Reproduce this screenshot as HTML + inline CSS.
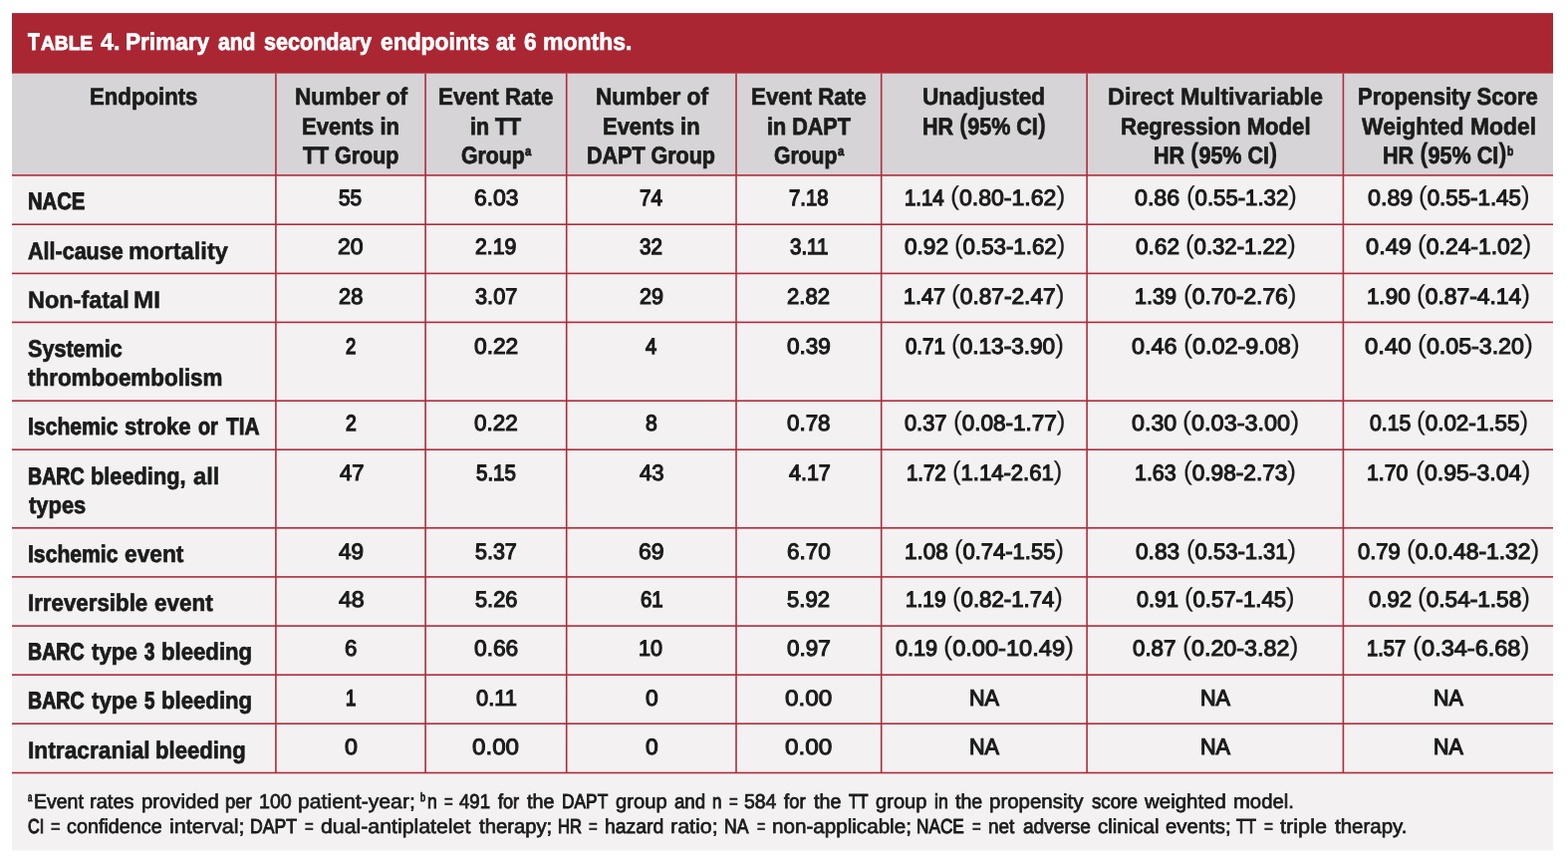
<!DOCTYPE html>
<html lang="en"><head><meta charset="utf-8"><title>Table 4. Primary and secondary endpoints at 6 months</title>
<style>
html,body{margin:0;padding:0;background:#fff;}
body{width:1574px;height:868px;position:relative;overflow:hidden;font-family:"Liberation Sans",sans-serif;color:#1b1b1b;}
svg{position:absolute;left:0;top:0;}
span{position:absolute;white-space:pre;line-height:normal;transform-origin:0 0;text-rendering:geometricPrecision;}
i{font-style:normal;font-size:1.16em;line-height:0;position:relative;top:-1px;-webkit-text-stroke-width:0.15px;}
.b{font-size:24.0px;font-weight:700;color:#1b1b1b;-webkit-text-stroke:0.5px #1b1b1b;}
.n{font-size:22.4px;font-weight:400;color:#1b1b1b;-webkit-text-stroke:1.1px #1b1b1b;}
.f{font-size:20.3px;font-weight:400;color:#1b1b1b;-webkit-text-stroke:0.7px #1b1b1b;}
.t{font-size:24.0px;font-weight:700;color:#ffffff;-webkit-text-stroke:0.5px #ffffff;}
</style></head>
<body>
<svg width="1574" height="868" viewBox="0 0 1574 868">
<rect x="12.0" y="13.1" width="1547.00" height="840.30" fill="#f3f1f2"/>
<rect x="12.0" y="73.7" width="1547.00" height="102.20" fill="#d6d4d7"/>
<rect x="12.0" y="13.1" width="1547.00" height="60.60" fill="#aa2633"/>
<rect x="12.0" y="175.10" width="1547.00" height="1.6" fill="#b02c3a"/>
<rect x="12.0" y="224.40" width="1547.00" height="1.6" fill="#b02c3a"/>
<rect x="12.0" y="273.60" width="1547.00" height="1.6" fill="#b02c3a"/>
<rect x="12.0" y="322.60" width="1547.00" height="1.6" fill="#b02c3a"/>
<rect x="12.0" y="401.40" width="1547.00" height="1.6" fill="#b02c3a"/>
<rect x="12.0" y="450.40" width="1547.00" height="1.6" fill="#b02c3a"/>
<rect x="12.0" y="529.00" width="1547.00" height="1.6" fill="#b02c3a"/>
<rect x="12.0" y="578.10" width="1547.00" height="1.6" fill="#b02c3a"/>
<rect x="12.0" y="627.30" width="1547.00" height="1.6" fill="#b02c3a"/>
<rect x="12.0" y="676.40" width="1547.00" height="1.6" fill="#b02c3a"/>
<rect x="12.0" y="725.40" width="1547.00" height="1.6" fill="#b02c3a"/>
<rect x="12.0" y="774.70" width="1547.00" height="1.6" fill="#b02c3a"/>
<rect x="276.10" y="73.7" width="1.6" height="701.80" fill="#b02c3a"/>
<rect x="426.30" y="73.7" width="1.6" height="701.80" fill="#b02c3a"/>
<rect x="567.90" y="73.7" width="1.6" height="701.80" fill="#b02c3a"/>
<rect x="738.20" y="73.7" width="1.6" height="701.80" fill="#b02c3a"/>
<rect x="883.90" y="73.7" width="1.6" height="701.80" fill="#b02c3a"/>
<rect x="1090.30" y="73.7" width="1.6" height="701.80" fill="#b02c3a"/>
<rect x="1347.60" y="73.7" width="1.6" height="701.80" fill="#b02c3a"/>
</svg>
<span class="t" style="left:28.39px;top:29.00px;transform:scaleX(0.7944);-webkit-text-stroke-width:1.0px;">T</span><span class="t" style="left:40.56px;top:33.00px;transform:scaleX(0.9550);font-size:20.04px;-webkit-text-stroke-width:0.9px;">ABLE </span>
<span class="t" style="left:100.50px;top:29.00px;transform:scaleX(0.9733);-webkit-text-stroke-width:0.55px;">4. </span>
<span class="t" style="left:126.45px;top:29.00px;transform:scaleX(0.9419);-webkit-text-stroke-width:0.64px;">Primary </span>
<span class="t" style="left:219.46px;top:29.00px;transform:scaleX(0.8774);-webkit-text-stroke-width:0.82px;">and </span>
<span class="t" style="left:265.22px;top:29.00px;transform:scaleX(0.8991);-webkit-text-stroke-width:0.76px;">secondary </span>
<span class="t" style="left:381.50px;top:29.00px;transform:scaleX(0.9520);-webkit-text-stroke-width:0.62px;">endpoints </span>
<span class="t" style="left:497.72px;top:29.00px;transform:scaleX(0.9080);-webkit-text-stroke-width:0.72px;">at </span>
<span class="t" style="left:525.97px;top:29.00px;transform:scaleX(0.9455);-webkit-text-stroke-width:0.61px;">6 </span>
<span class="t" style="left:544.80px;top:29.00px;transform:scaleX(0.9583);-webkit-text-stroke-width:0.6px;">months.</span>
<span class="b" style="left:89.99px;top:84.00px;transform:scaleX(0.9240);-webkit-text-stroke-width:0.69px;">Endpoints </span>
<span class="b" style="left:295.84px;top:84.00px;transform:scaleX(0.9428);-webkit-text-stroke-width:0.64px;">Number of </span>
<span class="b" style="left:303.41px;top:114.00px;transform:scaleX(0.9189);-webkit-text-stroke-width:0.71px;">Events in </span>
<span class="b" style="left:304.05px;top:143.00px;transform:scaleX(0.8918);-webkit-text-stroke-width:0.78px;">TT Group </span>
<span class="b" style="left:440.18px;top:84.00px;transform:scaleX(0.9294);-webkit-text-stroke-width:0.68px;">Event Rate </span>
<span class="b" style="left:472.23px;top:114.00px;transform:scaleX(0.8926);-webkit-text-stroke-width:0.78px;">in TT </span>
<span class="b" style="left:462.63px;top:143.00px;transform:scaleX(0.8835);-webkit-text-stroke-width:0.81px;">Group</span><span class="b" style="left:527.28px;top:144.00px;transform:scaleX(0.8587);font-size:13.20px;-webkit-text-stroke-width:0.7px;">a </span>
<span class="b" style="left:597.55px;top:84.00px;transform:scaleX(0.9410);-webkit-text-stroke-width:0.65px;">Number of </span>
<span class="b" style="left:605.22px;top:114.00px;transform:scaleX(0.9141);-webkit-text-stroke-width:0.72px;">Events in </span>
<span class="b" style="left:589.07px;top:143.00px;transform:scaleX(0.8959);-webkit-text-stroke-width:0.78px;">DAPT Group </span>
<span class="b" style="left:753.77px;top:84.00px;transform:scaleX(0.9321);-webkit-text-stroke-width:0.67px;">Event Rate </span>
<span class="b" style="left:769.72px;top:114.00px;transform:scaleX(0.8988);-webkit-text-stroke-width:0.77px;">in DAPT </span>
<span class="b" style="left:776.63px;top:143.00px;transform:scaleX(0.8791);-webkit-text-stroke-width:0.82px;">Group</span><span class="b" style="left:841.08px;top:144.00px;transform:scaleX(0.8587);font-size:13.20px;-webkit-text-stroke-width:0.7px;">a </span>
<span class="b" style="left:926.20px;top:84.00px;transform:scaleX(0.9425);-webkit-text-stroke-width:0.64px;">Unadjusted </span>
<span class="b" style="left:926.27px;top:114.00px;transform:scaleX(0.8954);-webkit-text-stroke-width:0.78px;">HR <i>(</i>95% CI<i>)</i> </span>
<span class="b" style="left:1111.86px;top:84.00px;transform:scaleX(0.9758);-webkit-text-stroke-width:0.56px;">Direct Multivariable </span>
<span class="b" style="left:1124.90px;top:114.00px;transform:scaleX(0.9219);-webkit-text-stroke-width:0.7px;">Regression Model </span>
<span class="b" style="left:1158.07px;top:143.00px;transform:scaleX(0.8969);-webkit-text-stroke-width:0.78px;">HR <i>(</i>95% CI<i>)</i> </span>
<span class="b" style="left:1363.32px;top:84.00px;transform:scaleX(0.9152);-webkit-text-stroke-width:0.72px;">Propensity Score </span>
<span class="b" style="left:1367.27px;top:114.00px;transform:scaleX(0.9535);-webkit-text-stroke-width:0.62px;">Weighted Model </span>
<span class="b" style="left:1388.06px;top:143.00px;transform:scaleX(0.8984);-webkit-text-stroke-width:0.77px;">HR <i>(</i>95% CI<i>)</i></span><span class="b" style="left:1513.11px;top:144.00px;transform:scaleX(0.7784);font-size:13.20px;-webkit-text-stroke-width:0.7px;">b </span>
<span class="b" style="left:27.93px;top:189.00px;transform:scaleX(0.8424);-webkit-text-stroke-width:0.94px;">NACE</span>
<span class="b" style="left:28.01px;top:239.00px;transform:scaleX(0.8965);-webkit-text-stroke-width:0.77px;">All-cause </span>
<span class="b" style="left:129.31px;top:239.00px;transform:scaleX(0.9865);">mortality</span>
<span class="b" style="left:27.86px;top:288.00px;transform:scaleX(0.9776);-webkit-text-stroke-width:0.55px;">Non-fatal </span>
<span class="b" style="left:134.39px;top:288.00px;transform:scaleX(1.0120);">MI</span>
<span class="b" style="left:27.96px;top:337.00px;transform:scaleX(0.8991);-webkit-text-stroke-width:0.76px;">Systemic </span>
<span class="b" style="left:28.48px;top:366.00px;transform:scaleX(0.9339);-webkit-text-stroke-width:0.67px;">thromboembolism</span>
<span class="b" style="left:27.85px;top:415.00px;transform:scaleX(0.8807);-webkit-text-stroke-width:0.82px;">Ischemic </span>
<span class="b" style="left:125.17px;top:415.00px;transform:scaleX(0.9258);-webkit-text-stroke-width:0.69px;">stroke </span>
<span class="b" style="left:198.60px;top:415.00px;transform:scaleX(0.8210);-webkit-text-stroke-width:0.96px;">or </span>
<span class="b" style="left:226.53px;top:415.00px;transform:scaleX(0.8672);-webkit-text-stroke-width:0.83px;">TIA</span>
<span class="b" style="left:28.23px;top:465.00px;transform:scaleX(0.8152);-webkit-text-stroke-width:1.02px;">BARC </span>
<span class="b" style="left:91.44px;top:465.00px;transform:scaleX(0.9069);-webkit-text-stroke-width:0.74px;">bleeding, </span>
<span class="b" style="left:193.52px;top:465.00px;transform:scaleX(0.9896);">all </span>
<span class="b" style="left:28.52px;top:494.00px;transform:scaleX(0.9138);-webkit-text-stroke-width:0.72px;">types</span>
<span class="b" style="left:27.85px;top:543.00px;transform:scaleX(0.8807);-webkit-text-stroke-width:0.82px;">Ischemic </span>
<span class="b" style="left:125.30px;top:543.00px;transform:scaleX(0.9482);-webkit-text-stroke-width:0.63px;">event</span>
<span class="b" style="left:27.98px;top:592.00px;transform:scaleX(0.9291);-webkit-text-stroke-width:0.68px;">Irreversible </span>
<span class="b" style="left:155.23px;top:592.00px;transform:scaleX(0.9348);-webkit-text-stroke-width:0.66px;">event</span>
<span class="b" style="left:28.23px;top:641.00px;transform:scaleX(0.8152);-webkit-text-stroke-width:1.02px;">BARC </span>
<span class="b" style="left:92.09px;top:641.00px;transform:scaleX(0.9274);-webkit-text-stroke-width:0.68px;">type </span>
<span class="b" style="left:144.86px;top:641.00px;transform:scaleX(0.7703);-webkit-text-stroke-width:1.06px;">3 </span>
<span class="b" style="left:161.70px;top:641.00px;transform:scaleX(0.9235);-webkit-text-stroke-width:0.69px;">bleeding</span>
<span class="b" style="left:28.23px;top:690.00px;transform:scaleX(0.8152);-webkit-text-stroke-width:1.02px;">BARC </span>
<span class="b" style="left:92.09px;top:690.00px;transform:scaleX(0.9274);-webkit-text-stroke-width:0.68px;">type </span>
<span class="b" style="left:144.62px;top:690.00px;transform:scaleX(0.7782);-webkit-text-stroke-width:1.05px;">5 </span>
<span class="b" style="left:161.70px;top:690.00px;transform:scaleX(0.9235);-webkit-text-stroke-width:0.69px;">bleeding</span>
<span class="b" style="left:27.94px;top:740.00px;transform:scaleX(0.9482);-webkit-text-stroke-width:0.63px;">Intracranial </span>
<span class="b" style="left:156.26px;top:740.00px;transform:scaleX(0.9208);-webkit-text-stroke-width:0.7px;">bleeding</span>
<span class="n" style="left:340.25px;top:186.00px;transform:scaleX(0.9298);-webkit-text-stroke-width:1.23px;">55</span>
<span class="n" style="left:475.55px;top:186.00px;transform:scaleX(1.0213);">6.03</span>
<span class="n" style="left:641.81px;top:186.00px;transform:scaleX(0.9241);-webkit-text-stroke-width:1.25px;">74</span>
<span class="n" style="left:791.94px;top:186.00px;transform:scaleX(0.9052);-webkit-text-stroke-width:1.29px;">7.18</span>
<span class="n" style="left:907.59px;top:186.00px;transform:scaleX(0.9115);-webkit-text-stroke-width:1.28px;">1.14 </span>
<span class="n" style="left:953.96px;top:186.00px;transform:scaleX(1.0304);-webkit-text-stroke-width:1.04px;"><i>(</i>0.80-1.62<i>)</i></span>
<span class="n" style="left:1139.22px;top:186.00px;transform:scaleX(1.0370);-webkit-text-stroke-width:1.04px;">0.86 </span>
<span class="n" style="left:1190.56px;top:186.00px;transform:scaleX(0.9902);"><i>(</i>0.55-1.32<i>)</i></span>
<span class="n" style="left:1372.81px;top:186.00px;transform:scaleX(1.0401);-webkit-text-stroke-width:1.03px;">0.89 </span>
<span class="n" style="left:1424.16px;top:186.00px;transform:scaleX(0.9966);"><i>(</i>0.55-1.45<i>)</i></span>
<span class="n" style="left:338.87px;top:235.00px;transform:scaleX(1.0288);-webkit-text-stroke-width:1.05px;">20</span>
<span class="n" style="left:477.19px;top:235.00px;transform:scaleX(0.9482);-webkit-text-stroke-width:1.2px;">2.19</span>
<span class="n" style="left:642.44px;top:235.00px;transform:scaleX(0.9169);-webkit-text-stroke-width:1.26px;">32</span>
<span class="n" style="left:793.14px;top:235.00px;transform:scaleX(0.9163);-webkit-text-stroke-width:1.27px;">3.11</span>
<span class="n" style="left:907.86px;top:235.00px;transform:scaleX(1.0085);">0.92 </span>
<span class="n" style="left:957.96px;top:235.00px;transform:scaleX(0.9939);"><i>(</i>0.53-1.62<i>)</i></span>
<span class="n" style="left:1139.86px;top:235.00px;transform:scaleX(1.0085);">0.62 </span>
<span class="n" style="left:1190.17px;top:235.00px;transform:scaleX(0.9893);"><i>(</i>0.32-1.22<i>)</i></span>
<span class="n" style="left:1371.30px;top:235.00px;transform:scaleX(1.0545);-webkit-text-stroke-width:1.0px;">0.49 </span>
<span class="n" style="left:1423.22px;top:235.00px;transform:scaleX(1.0214);-webkit-text-stroke-width:1.06px;"><i>(</i>0.24-1.02<i>)</i></span>
<span class="n" style="left:339.55px;top:285.00px;transform:scaleX(0.9761);-webkit-text-stroke-width:1.14px;">28</span>
<span class="n" style="left:476.58px;top:285.00px;transform:scaleX(0.9728);-webkit-text-stroke-width:1.15px;">3.07</span>
<span class="n" style="left:641.77px;top:285.00px;transform:scaleX(0.9617);-webkit-text-stroke-width:1.17px;">29</span>
<span class="n" style="left:790.32px;top:285.00px;transform:scaleX(0.9863);">2.82</span>
<span class="n" style="left:907.49px;top:285.00px;transform:scaleX(0.9655);-webkit-text-stroke-width:1.17px;">1.47 </span>
<span class="n" style="left:955.33px;top:285.00px;transform:scaleX(1.0132);"><i>(</i>0.87-2.47<i>)</i></span>
<span class="n" style="left:1139.14px;top:285.00px;transform:scaleX(0.9638);-webkit-text-stroke-width:1.17px;">1.39 </span>
<span class="n" style="left:1187.53px;top:285.00px;transform:scaleX(1.0132);"><i>(</i>0.70-2.76<i>)</i></span>
<span class="n" style="left:1372.07px;top:285.00px;transform:scaleX(1.0035);">1.90 </span>
<span class="n" style="left:1421.72px;top:285.00px;transform:scaleX(1.0187);"><i>(</i>0.87-4.14<i>)</i></span>
<span class="n" style="left:347.06px;top:335.00px;transform:scaleX(0.8212);-webkit-text-stroke-width:1.45px;">2</span>
<span class="n" style="left:475.86px;top:335.00px;transform:scaleX(1.0155);">0.22</span>
<span class="n" style="left:648.32px;top:335.00px;transform:scaleX(0.8958);-webkit-text-stroke-width:1.29px;">4</span>
<span class="n" style="left:789.96px;top:335.00px;transform:scaleX(1.0057);">0.39</span>
<span class="n" style="left:909.16px;top:335.00px;transform:scaleX(0.9133);-webkit-text-stroke-width:1.27px;">0.71 </span>
<span class="n" style="left:955.44px;top:335.00px;transform:scaleX(1.0086);"><i>(</i>0.13-3.90<i>)</i></span>
<span class="n" style="left:1136.21px;top:335.00px;transform:scaleX(1.0444);-webkit-text-stroke-width:1.02px;">0.46 </span>
<span class="n" style="left:1187.78px;top:335.00px;transform:scaleX(1.0444);-webkit-text-stroke-width:1.02px;"><i>(</i>0.02-9.08<i>)</i></span>
<span class="n" style="left:1370.08px;top:335.00px;transform:scaleX(1.0698);-webkit-text-stroke-width:0.98px;">0.40 </span>
<span class="n" style="left:1422.80px;top:335.00px;transform:scaleX(1.0352);-webkit-text-stroke-width:1.04px;"><i>(</i>0.05-3.20<i>)</i></span>
<span class="n" style="left:347.00px;top:412.00px;transform:scaleX(0.8621);-webkit-text-stroke-width:1.36px;">2</span>
<span class="n" style="left:476.36px;top:412.00px;transform:scaleX(1.0015);">0.22</span>
<span class="n" style="left:647.79px;top:412.00px;transform:scaleX(0.9448);-webkit-text-stroke-width:1.19px;">8</span>
<span class="n" style="left:790.16px;top:412.00px;transform:scaleX(0.9994);">0.78</span>
<span class="n" style="left:908.49px;top:412.00px;transform:scaleX(0.9725);-webkit-text-stroke-width:1.15px;">0.37 </span>
<span class="n" style="left:956.74px;top:412.00px;transform:scaleX(1.0049);"><i>(</i>0.08-1.77<i>)</i></span>
<span class="n" style="left:1135.81px;top:412.00px;transform:scaleX(1.0382);-webkit-text-stroke-width:1.03px;">0.30 </span>
<span class="n" style="left:1187.48px;top:412.00px;transform:scaleX(1.0472);-webkit-text-stroke-width:1.01px;"><i>(</i>0.03-3.00<i>)</i></span>
<span class="n" style="left:1375.02px;top:412.00px;transform:scaleX(0.9484);-webkit-text-stroke-width:1.2px;">0.15 </span>
<span class="n" style="left:1422.35px;top:412.00px;transform:scaleX(1.0021);"><i>(</i>0.02-1.55<i>)</i></span>
<span class="n" style="left:340.53px;top:462.00px;transform:scaleX(0.9817);">47</span>
<span class="n" style="left:477.87px;top:462.00px;transform:scaleX(0.9165);-webkit-text-stroke-width:1.27px;">5.15</span>
<span class="n" style="left:641.73px;top:462.00px;transform:scaleX(0.9870);">43</span>
<span class="n" style="left:791.57px;top:462.00px;transform:scaleX(0.9587);-webkit-text-stroke-width:1.18px;">4.17</span>
<span class="n" style="left:910.44px;top:462.00px;transform:scaleX(0.9099);-webkit-text-stroke-width:1.28px;">1.72 </span>
<span class="n" style="left:956.17px;top:462.00px;transform:scaleX(0.9856);"><i>(</i>1.14-2.61<i>)</i></span>
<span class="n" style="left:1139.36px;top:462.00px;transform:scaleX(0.9549);-webkit-text-stroke-width:1.19px;">1.63 </span>
<span class="n" style="left:1187.53px;top:462.00px;transform:scaleX(1.0104);"><i>(</i>0.98-2.73<i>)</i></span>
<span class="n" style="left:1372.27px;top:462.00px;transform:scaleX(0.9493);-webkit-text-stroke-width:1.2px;">1.70 </span>
<span class="n" style="left:1420.70px;top:462.00px;transform:scaleX(1.0306);-webkit-text-stroke-width:1.04px;"><i>(</i>0.95-3.04<i>)</i></span>
<span class="n" style="left:339.93px;top:541.00px;transform:scaleX(1.0054);">49</span>
<span class="n" style="left:477.22px;top:541.00px;transform:scaleX(0.9577);-webkit-text-stroke-width:1.18px;">5.37</span>
<span class="n" style="left:640.83px;top:541.00px;transform:scaleX(1.0269);-webkit-text-stroke-width:1.05px;">69</span>
<span class="n" style="left:789.86px;top:541.00px;transform:scaleX(1.0036);">6.70</span>
<span class="n" style="left:908.37px;top:541.00px;transform:scaleX(1.0015);">1.08 </span>
<span class="n" style="left:958.48px;top:541.00px;transform:scaleX(0.9819);"><i>(</i>0.74-1.55<i>)</i></span>
<span class="n" style="left:1140.46px;top:541.00px;transform:scaleX(1.0118);">0.83 </span>
<span class="n" style="left:1191.07px;top:541.00px;transform:scaleX(0.9838);"><i>(</i>0.53-1.31<i>)</i></span>
<span class="n" style="left:1363.17px;top:541.00px;transform:scaleX(0.9823);">0.79 </span>
<span class="n" style="left:1412.42px;top:541.00px;transform:scaleX(1.0213);"><i>(</i>0.0.48-1.32<i>)</i></span>
<span class="n" style="left:339.50px;top:589.00px;transform:scaleX(1.0338);-webkit-text-stroke-width:1.04px;">48</span>
<span class="n" style="left:476.60px;top:589.00px;transform:scaleX(0.9732);-webkit-text-stroke-width:1.15px;">5.26</span>
<span class="n" style="left:642.71px;top:589.00px;transform:scaleX(0.9086);-webkit-text-stroke-width:1.28px;">61</span>
<span class="n" style="left:790.47px;top:589.00px;transform:scaleX(0.9850);">5.92</span>
<span class="n" style="left:909.10px;top:589.00px;transform:scaleX(0.9291);-webkit-text-stroke-width:1.24px;">1.19 </span>
<span class="n" style="left:955.56px;top:589.00px;transform:scaleX(0.9911);"><i>(</i>0.82-1.74<i>)</i></span>
<span class="n" style="left:1141.30px;top:589.00px;transform:scaleX(0.9621);-webkit-text-stroke-width:1.17px;">0.91 </span>
<span class="n" style="left:1189.17px;top:589.00px;transform:scaleX(0.9874);"><i>(</i>0.57-1.45<i>)</i></span>
<span class="n" style="left:1373.67px;top:589.00px;transform:scaleX(0.9875);">0.92 </span>
<span class="n" style="left:1422.94px;top:589.00px;transform:scaleX(1.0095);"><i>(</i>0.54-1.58<i>)</i></span>
<span class="n" style="left:345.87px;top:638.00px;transform:scaleX(0.9932);">6</span>
<span class="n" style="left:476.06px;top:638.00px;transform:scaleX(1.0142);">0.66</span>
<span class="n" style="left:641.24px;top:638.00px;transform:scaleX(0.9628);-webkit-text-stroke-width:1.17px;">10</span>
<span class="n" style="left:790.46px;top:638.00px;transform:scaleX(1.0015);">0.97</span>
<span class="n" style="left:899.30px;top:638.00px;transform:scaleX(0.9671);-webkit-text-stroke-width:1.16px;">0.19 </span>
<span class="n" style="left:947.47px;top:638.00px;transform:scaleX(1.0547);-webkit-text-stroke-width:1.0px;"><i>(</i>0.00-10.49<i>)</i></span>
<span class="n" style="left:1137.36px;top:638.00px;transform:scaleX(0.9968);">0.87 </span>
<span class="n" style="left:1187.19px;top:638.00px;transform:scaleX(1.0398);-webkit-text-stroke-width:1.03px;"><i>(</i>0.20-3.82<i>)</i></span>
<span class="n" style="left:1372.46px;top:638.00px;transform:scaleX(0.8974);-webkit-text-stroke-width:1.31px;">1.57 </span>
<span class="n" style="left:1418.47px;top:638.00px;transform:scaleX(1.0499);-webkit-text-stroke-width:1.01px;"><i>(</i>0.34-6.68<i>)</i></span>
<span class="n" style="left:347.09px;top:688.00px;transform:scaleX(0.8253);-webkit-text-stroke-width:1.44px;">1</span>
<span class="n" style="left:477.79px;top:688.00px;transform:scaleX(0.9743);-webkit-text-stroke-width:1.15px;">0.11</span>
<span class="n" style="left:647.56px;top:688.00px;transform:scaleX(1.0173);">0</span>
<span class="n" style="left:787.96px;top:688.00px;transform:scaleX(1.0845);-webkit-text-stroke-width:0.96px;">0.00</span>
<span class="n" style="left:972.71px;top:687.00px;transform:scaleX(0.9438);font-size:22.90px;-webkit-text-stroke-width:1.21px;">NA</span>
<span class="n" style="left:1204.81px;top:687.00px;transform:scaleX(0.9438);font-size:22.90px;-webkit-text-stroke-width:1.21px;">NA</span>
<span class="n" style="left:1438.94px;top:687.00px;transform:scaleX(0.9335);font-size:22.90px;-webkit-text-stroke-width:1.23px;">NA</span>
<span class="n" style="left:345.62px;top:737.00px;transform:scaleX(1.0394);-webkit-text-stroke-width:1.04px;">0</span>
<span class="n" style="left:474.38px;top:737.00px;transform:scaleX(1.0792);-webkit-text-stroke-width:0.97px;">0.00</span>
<span class="n" style="left:647.56px;top:737.00px;transform:scaleX(1.0173);">0</span>
<span class="n" style="left:787.96px;top:737.00px;transform:scaleX(1.0845);-webkit-text-stroke-width:0.96px;">0.00</span>
<span class="n" style="left:972.71px;top:736.00px;transform:scaleX(0.9438);font-size:22.90px;-webkit-text-stroke-width:1.21px;">NA</span>
<span class="n" style="left:1204.81px;top:736.00px;transform:scaleX(0.9438);font-size:22.90px;-webkit-text-stroke-width:1.21px;">NA</span>
<span class="n" style="left:1438.94px;top:736.00px;transform:scaleX(0.9335);font-size:22.90px;-webkit-text-stroke-width:1.23px;">NA</span><span class="f" style="left:27.65px;top:793.00px;transform:scaleX(0.6400);font-size:12.00px;-webkit-text-stroke-width:0.9px;">a</span>
<span class="f" style="left:34.05px;top:794.00px;transform:scaleX(0.9605);-webkit-text-stroke-width:0.76px;">Event </span>
<span class="f" style="left:90.16px;top:794.00px;transform:scaleX(0.9891);">rates </span>
<span class="f" style="left:141.57px;top:794.00px;transform:scaleX(1.0007);">provided </span>
<span class="f" style="left:225.94px;top:794.00px;transform:scaleX(0.9121);-webkit-text-stroke-width:0.84px;">per </span>
<span class="f" style="left:259.80px;top:794.00px;transform:scaleX(0.9695);-webkit-text-stroke-width:0.75px;">100 </span>
<span class="f" style="left:299.34px;top:794.00px;transform:scaleX(1.0455);-webkit-text-stroke-width:0.63px;">patient-year; </span>
<span class="f" style="left:421.97px;top:793.00px;transform:scaleX(0.7591);font-size:12.00px;-webkit-text-stroke-width:0.9px;">b</span>
<span class="f" style="left:428.80px;top:794.00px;transform:scaleX(0.8601);-webkit-text-stroke-width:0.91px;">n </span>
<span class="f" style="left:445.54px;top:794.00px;transform:scaleX(0.7367);">= </span>
<span class="f" style="left:461.32px;top:794.00px;transform:scaleX(0.9163);-webkit-text-stroke-width:0.83px;">491 </span>
<span class="f" style="left:499.50px;top:794.00px;transform:scaleX(0.8933);-webkit-text-stroke-width:0.87px;">for </span>
<span class="f" style="left:529.10px;top:794.00px;transform:scaleX(0.9737);-webkit-text-stroke-width:0.74px;">the </span>
<span class="f" style="left:564.33px;top:794.00px;transform:scaleX(0.8556);-webkit-text-stroke-width:0.95px;">DAPT </span>
<span class="f" style="left:618.42px;top:794.00px;transform:scaleX(0.9954);">group </span>
<span class="f" style="left:676.54px;top:794.00px;transform:scaleX(0.9184);-webkit-text-stroke-width:0.83px;">and </span>
<span class="f" style="left:714.63px;top:794.00px;transform:scaleX(0.8359);-webkit-text-stroke-width:0.95px;">n </span>
<span class="f" style="left:731.54px;top:794.00px;transform:scaleX(0.7367);">= </span>
<span class="f" style="left:747.41px;top:794.00px;transform:scaleX(0.9561);-webkit-text-stroke-width:0.77px;">584 </span>
<span class="f" style="left:787.09px;top:794.00px;transform:scaleX(0.9111);-webkit-text-stroke-width:0.84px;">for </span>
<span class="f" style="left:817.12px;top:794.00px;transform:scaleX(0.9690);-webkit-text-stroke-width:0.75px;">the </span>
<span class="f" style="left:852.07px;top:794.00px;transform:scaleX(0.7838);-webkit-text-stroke-width:1.1px;">TT </span>
<span class="f" style="left:879.42px;top:794.00px;transform:scaleX(0.9915);">group </span>
<span class="f" style="left:937.79px;top:794.00px;transform:scaleX(0.8676);-webkit-text-stroke-width:0.91px;">in </span>
<span class="f" style="left:959.02px;top:794.00px;transform:scaleX(0.9617);-webkit-text-stroke-width:0.76px;">the </span>
<span class="f" style="left:992.96px;top:794.00px;transform:scaleX(1.0090);">propensity </span>
<span class="f" style="left:1095.83px;top:794.00px;transform:scaleX(0.9235);-webkit-text-stroke-width:0.82px;">score </span>
<span class="f" style="left:1149.30px;top:794.00px;transform:scaleX(1.0077);">weighted </span>
<span class="f" style="left:1237.96px;top:794.00px;transform:scaleX(0.9987);">model.</span>
<span class="f" style="left:28.38px;top:819.00px;transform:scaleX(0.7969);-webkit-text-stroke-width:1.06px;">CI </span>
<span class="f" style="left:50.91px;top:819.00px;transform:scaleX(0.7938);">= </span>
<span class="f" style="left:67.32px;top:819.00px;transform:scaleX(0.9760);">confidence </span>
<span class="f" style="left:169.51px;top:819.00px;transform:scaleX(1.0634);-webkit-text-stroke-width:0.61px;">interval; </span>
<span class="f" style="left:250.71px;top:819.00px;transform:scaleX(0.8678);-webkit-text-stroke-width:0.93px;">DAPT </span>
<span class="f" style="left:306.44px;top:819.00px;transform:scaleX(0.7367);">= </span>
<span class="f" style="left:322.36px;top:819.00px;transform:scaleX(1.0496);-webkit-text-stroke-width:0.63px;">dual-antiplatelet </span>
<span class="f" style="left:481.38px;top:819.00px;transform:scaleX(0.9996);">therapy; </span>
<span class="f" style="left:559.99px;top:819.00px;transform:scaleX(0.8199);-webkit-text-stroke-width:1.02px;">HR </span>
<span class="f" style="left:591.44px;top:819.00px;transform:scaleX(0.7367);">= </span>
<span class="f" style="left:607.49px;top:819.00px;transform:scaleX(0.9549);-webkit-text-stroke-width:0.77px;">hazard </span>
<span class="f" style="left:673.41px;top:819.00px;transform:scaleX(1.0574);-webkit-text-stroke-width:0.62px;">ratio; </span>
<span class="f" style="left:726.61px;top:819.00px;transform:scaleX(0.8667);-webkit-text-stroke-width:0.93px;">NA </span>
<span class="f" style="left:759.57px;top:819.00px;transform:scaleX(0.6987);">= </span>
<span class="f" style="left:774.94px;top:819.00px;transform:scaleX(1.0169);">non-applicable; </span>
<span class="f" style="left:919.94px;top:819.00px;transform:scaleX(0.8477);-webkit-text-stroke-width:0.97px;">NACE </span>
<span class="f" style="left:975.54px;top:819.00px;transform:scaleX(0.7367);">= </span>
<span class="f" style="left:991.67px;top:819.00px;transform:scaleX(0.9335);-webkit-text-stroke-width:0.8px;">net </span>
<span class="f" style="left:1026.51px;top:819.00px;transform:scaleX(0.9415);-webkit-text-stroke-width:0.79px;">adverse </span>
<span class="f" style="left:1102.20px;top:819.00px;transform:scaleX(1.0106);">clinical </span>
<span class="f" style="left:1170.41px;top:819.00px;transform:scaleX(1.0022);">events; </span>
<span class="f" style="left:1240.65px;top:819.00px;transform:scaleX(0.8053);-webkit-text-stroke-width:1.05px;">TT </span>
<span class="f" style="left:1268.93px;top:819.00px;transform:scaleX(0.7557);">= </span>
<span class="f" style="left:1285.30px;top:819.00px;transform:scaleX(1.0694);-webkit-text-stroke-width:0.6px;">triple </span>
<span class="f" style="left:1339.98px;top:819.00px;transform:scaleX(1.0099);">therapy.</span>

</body></html>
